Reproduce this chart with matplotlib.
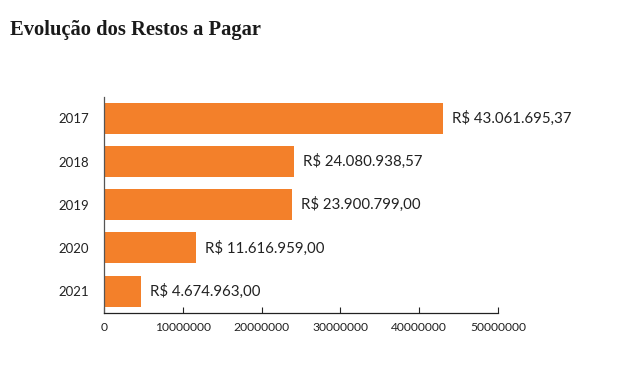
#!/usr/bin/env python3
"""Evolução dos Restos a Pagar: horizontal bar chart, one bar per year."""

import matplotlib
matplotlib.use("Agg")
import matplotlib.pyplot as plt

YEARS = ["2017", "2018", "2019", "2020", "2021"]
VALUES = [43061695.37, 24080938.57, 23900799.00, 11616959.00, 4674963.00]
VALUE_LABELS = ["R$ 43.061.695,37", "R$ 24.080.938,57", "R$ 23.900.799,00",
                "R$ 11.616.959,00", "R$ 4.674.963,00"]
X_TICKS = [0, 10000000, 20000000, 30000000, 40000000, 50000000]

ORANGE = "#F3802A"
TEXT = "#222222"


def main():
    fig = plt.figure(figsize=(6.4, 3.92), dpi=100)
    ax = fig.add_axes([0.1625, 0.2023, 0.6155, 0.551])

    y = list(range(len(YEARS)))
    ax.barh(y, VALUES, height=0.72, color=ORANGE)

    for yi, v, lab in zip(y, VALUES, VALUE_LABELS):
        ax.annotate(lab, (v, yi), xytext=(6.5, 0), textcoords="offset points",
                    va="center", ha="left", fontsize=10.8, family="Lato", color=TEXT)

    ax.set_ylim(4.5, -0.5)
    ax.set_xlim(0, 50000000)
    ax.set_yticks(y)
    ax.set_yticklabels(YEARS, family="Lato", fontsize=9.5, color=TEXT)
    ax.set_xticks(X_TICKS)
    ax.set_xticklabels([str(t) for t in X_TICKS], family="Lato", fontsize=8.7, color=TEXT)

    ax.tick_params(axis="y", length=0, pad=11)
    ax.tick_params(axis="x", direction="in", length=4, width=0.8, color=TEXT, pad=7)

    for side in ["top", "right"]:
        ax.spines[side].set_visible(False)
    ax.spines["left"].set_color("#555555")
    ax.spines["left"].set_linewidth(0.9)
    ax.spines["bottom"].set_color(TEXT)
    ax.spines["bottom"].set_linewidth(0.9)

    fig.text(0.016, 0.924, "Evolução dos Restos a Pagar", fontsize=14.8,
             fontweight="bold", family="Liberation Serif", color="#1a1a1a",
             va="center", ha="left")

    fig.savefig("out.png", dpi=100)
    plt.close(fig)


if __name__ == "__main__":
    main()
